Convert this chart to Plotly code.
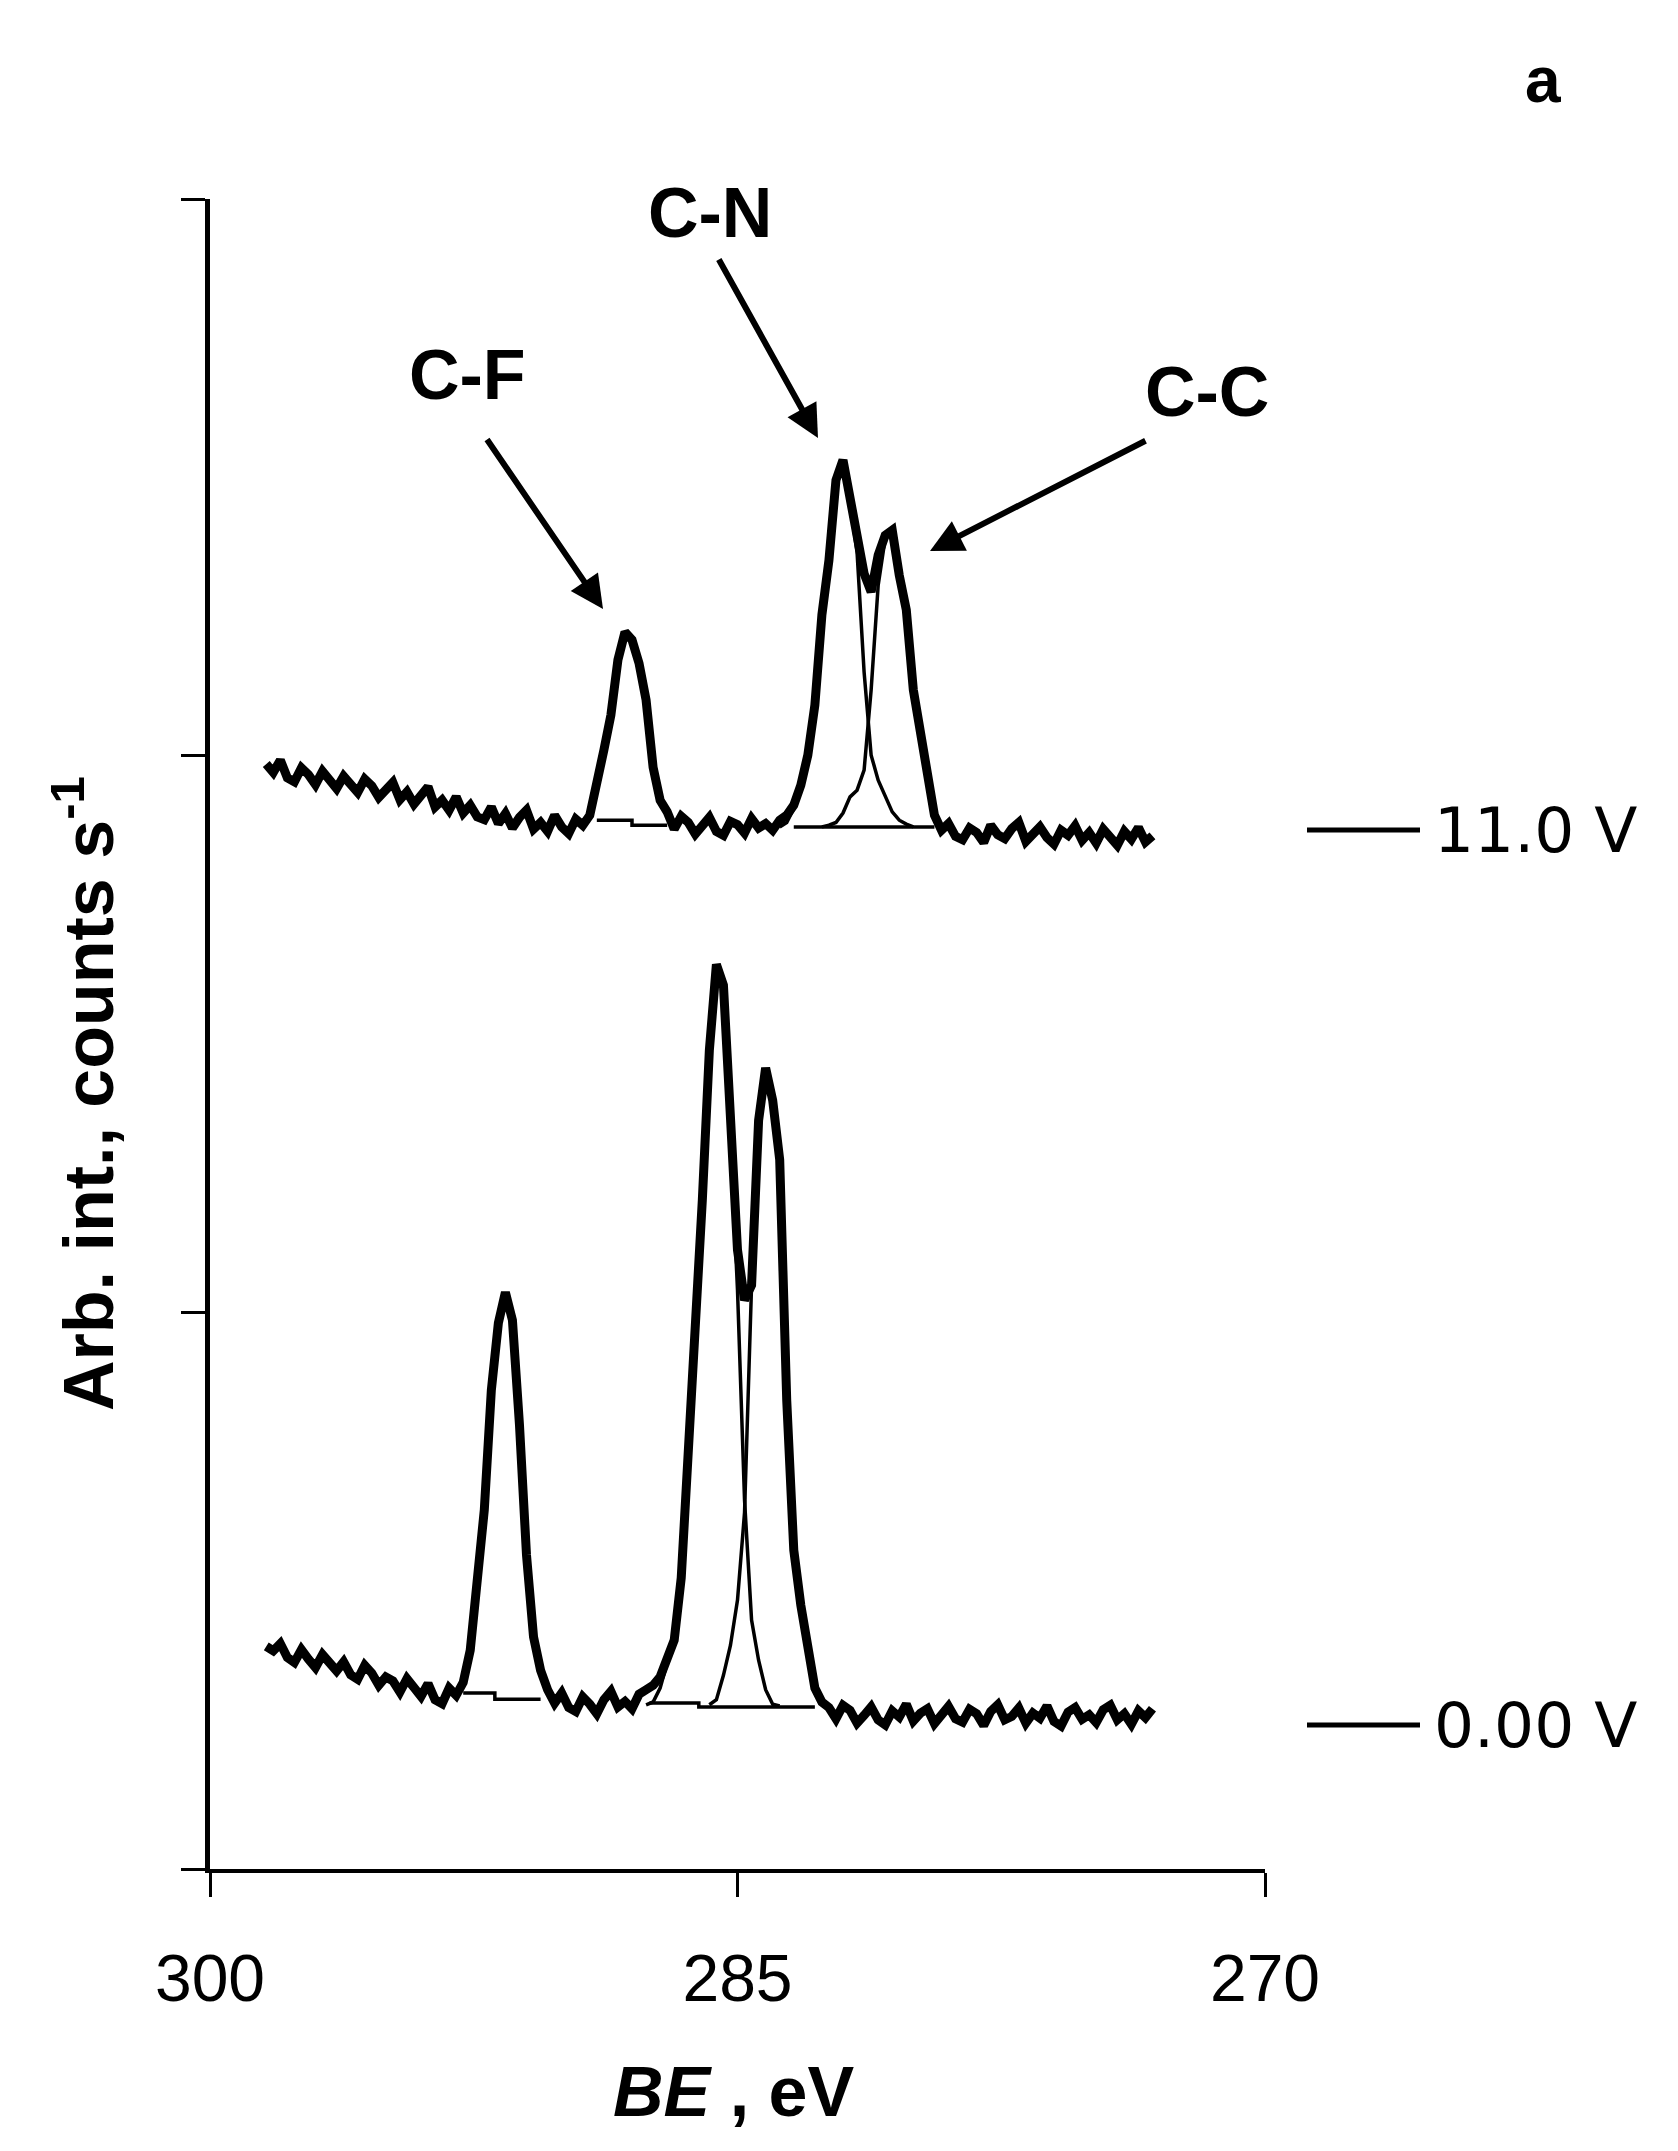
import plotly.graph_objects as go

# binding energy grid (eV), 0.2 eV steps from 298.4 down to 273.2
be = [round(298.4 - 0.2 * i, 1) for i in range(127)]

# 0.00 V spectrum (envelope), arb. units
lo_env = [400, 392, 405, 380, 371, 394, 377, 362, 385, 368,
          356, 372, 349, 341, 366, 352, 330, 345, 338, 318,
          342, 326, 310, 333, 304, 297, 325, 312, 335, 393,
          514, 645, 860, 981, 1036, 986, 798, 564, 417, 357,
          322, 298, 316, 290, 283, 309, 296, 279, 304, 319,
          291, 301, 288, 314, 322, 330, 345, 375, 411, 523,
          735, 941, 1202, 1471, 1625, 1588, 1327, 1112, 1022, 1049,
          1345, 1439, 1381, 1274, 842, 573, 474, 393, 325, 300,
          290, 270, 294, 285, 262, 276, 291, 268, 259, 284,
          273, 296, 266, 280, 288, 261, 275, 292, 270, 264,
          287, 279, 258, 283, 295, 268, 274, 289, 262, 280,
          271, 293, 265, 257, 282, 290, 269, 277, 263, 286,
          294, 268, 279, 260, 284, 272, 288]

# 11.0 V spectrum (envelope)
up_env = [1985, 1970, 1992, 1960, 1953, 1978, 1966, 1948, 1972, 1957,
          1941, 1963, 1950, 1934, 1958, 1946, 1925, 1940, 1952, 1921,
          1935, 1913, 1929, 1944, 1908, 1920, 1902, 1926, 1897, 1911,
          1890, 1885, 1908, 1878, 1896, 1870, 1889, 1902, 1868, 1880,
          1864, 1893, 1872, 1860, 1886, 1875, 1893, 1947, 2010, 2073,
          2172, 2222, 2208, 2166, 2100, 1979, 1920, 1899, 1868, 1891,
          1880, 1859, 1873, 1889, 1864, 1857, 1882, 1876, 1861, 1887,
          1870, 1878, 1866, 1884, 1893, 1911, 1947, 2001, 2091, 2253,
          2351, 2495, 2531, 2459, 2384, 2327, 2294, 2360, 2396, 2405,
          2324, 2262, 2118, 2037, 1956, 1893, 1866, 1878, 1855, 1849,
          1870, 1862, 1844, 1875, 1858, 1851, 1869, 1880, 1846, 1860,
          1872, 1853, 1841, 1866, 1857, 1874, 1848, 1862, 1843, 1868,
          1855, 1839, 1864, 1850, 1871, 1845, 1856]

# fitted components (start index in be grid, values)
lo_cn_start = 54
lo_cn = [295, 300, 325, 370, 405, 520, 730, 938, 1198, 1466,
         1620, 1583, 1315, 1040, 663, 447, 375, 322, 296, 293]
lo_cc_start = 63
lo_cc = [295, 304, 348, 402, 483, 640, 1049, 1340, 1435, 1378,
         1270, 838, 568, 470, 388, 320, 298, 291]
up_cn_start = 73
up_cn = [1872, 1880, 1905, 1942, 1995, 2085, 2245, 2345, 2490, 2525,
         2455, 2365, 2150, 2001, 1956, 1926, 1899, 1884, 1877, 1872]
up_cc_start = 79
up_cc = [1872, 1875, 1880, 1897, 1926, 1938, 1974, 2118, 2306, 2390,
         2400, 2318, 2256, 2112, 2032, 1950, 1888, 1872]

# fit backgrounds
lo_bg_x = [292.8, 291.9, 291.9, 290.6, None, 287.5, 286.1, 286.1, 282.8]
lo_bg_y = [316, 316, 305, 305, None, 298, 298, 291, 291]
up_bg_x = [289.0, 288.0, 288.0, 287.0, None, 283.4, 279.4]
up_bg_y = [1884, 1884, 1875, 1875, None, 1872, 1872]

x_ticks = [300, 285, 270]
y_ticks = [0, 1000, 2000, 3000]

FONT = "Liberation Sans, Arial, sans-serif"
thin = dict(color="black", width=3.5)
thick = dict(color="black", width=9)

# plot area on the page: x 210..1265, y 199..1869 (page has 8px body margin)
PX0, PX1, PY0, PY1 = 210, 1265, 199, 1869


def px(x):
    return (x - PX0) / (PX1 - PX0)


def py(y):
    return (PY1 - y) / (PY1 - PY0)


fig = go.Figure()

fig.add_trace(go.Scatter(x=lo_bg_x, y=lo_bg_y, mode="lines", line=thin))
fig.add_trace(go.Scatter(x=up_bg_x, y=up_bg_y, mode="lines", line=thin))
for start, vals in [(lo_cn_start, lo_cn), (lo_cc_start, lo_cc),
                    (up_cn_start, up_cn), (up_cc_start, up_cc)]:
    fig.add_trace(go.Scatter(x=be[start:start + len(vals)], y=vals,
                             mode="lines", line=thin))
fig.add_trace(go.Scatter(x=be, y=lo_env, mode="lines", line=thick))
fig.add_trace(go.Scatter(x=be, y=up_env, mode="lines", line=thick))

fig.update_layout(
    width=1678, height=2151,
    margin=dict(l=PX0 - 8, r=1678 - (PX1 - 8), t=PY0 - 8, b=2151 - (PY1 - 8)),
    plot_bgcolor="white", paper_bgcolor="white",
    showlegend=False,
    font=dict(family=FONT, color="black"),
)

fig.update_xaxes(
    range=[300, 270], tickvals=x_ticks, ticks="outside", ticklen=24,
    tickwidth=2.5, tickcolor="black", showline=True, linewidth=4,
    linecolor="black", showgrid=False, zeroline=False,
    tickfont=dict(family=FONT, size=66, color="black"),
    ticklabelstandoff=25,
)
fig.update_yaxes(
    range=[0, 3000], tickvals=y_ticks, showticklabels=False,
    ticks="outside", ticklen=24, tickwidth=2.5, tickcolor="black",
    showline=True, linewidth=5, linecolor="black", showgrid=False,
    zeroline=False,
)

# axis titles
fig.add_annotation(xref="paper", yref="paper", x=px(734), y=py(2092),
                   text="<b><i>BE</i> , eV</b>", showarrow=False,
                   font=dict(family=FONT, size=70), xanchor="center",
                   yanchor="middle")
fig.add_annotation(xref="paper", yref="paper", x=px(84), y=py(1094),
                   text="<b>Arb. int., counts s<sup>-1</sup></b>",
                   showarrow=False, textangle=-90,
                   font=dict(family=FONT, size=70), xanchor="center",
                   yanchor="middle")

# panel letter
fig.add_annotation(xref="paper", yref="paper", x=px(1543), y=py(80),
                   text="<b>a</b>", showarrow=False, xanchor="center",
                   yanchor="middle", font=dict(family=FONT, size=64))

# peak labels
for label, lx, ly in [("C-N", 710, 213), ("C-F", 467, 375),
                      ("C-C", 1207, 392)]:
    fig.add_annotation(xref="paper", yref="paper", x=px(lx), y=py(ly),
                       text="<b>" + label + "</b>", showarrow=False,
                       xanchor="center", yanchor="middle",
                       font=dict(family=FONT, size=70))

# arrows (head position, tail offset in pixels)
for hx, hy, tx, ty in [(603, 609, 486, 438),
                       (818, 438, 718, 258),
                       (930, 551, 1147, 440)]:
    fig.add_annotation(xref="paper", yref="paper", x=px(hx), y=py(hy),
                       ax=tx - hx, ay=ty - hy, text="", showarrow=True,
                       arrowhead=2, arrowsize=1.1, arrowwidth=6,
                       arrowcolor="black", standoff=0)

# voltage labels
for label, ly in [("11.0 V", 830), ("0.00 V", 1725)]:
    fig.add_shape(type="line", xref="paper", yref="paper",
                  x0=px(1307), x1=px(1420), y0=py(ly), y1=py(ly),
                  line=dict(color="black", width=5))
    fig.add_annotation(xref="paper", yref="paper", x=px(1432), y=py(ly),
                       text=label, showarrow=False, xanchor="left",
                       yanchor="middle",
                       font=dict(family="DejaVu Sans", size=63))

fig.write_html("out.html")
